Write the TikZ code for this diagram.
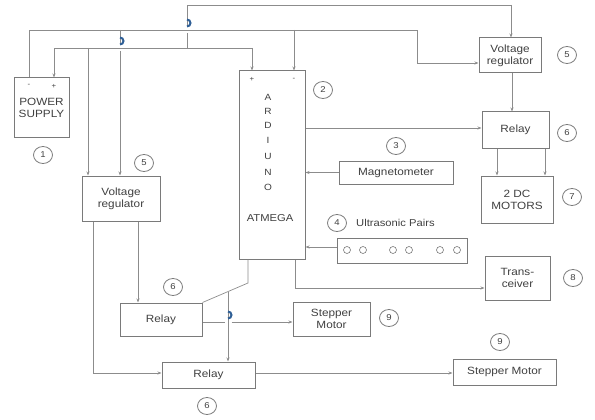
\documentclass[tikz,border=0pt]{standalone}
\usepackage{fontspec}
\setmainfont{Liberation Sans}[FakeStretch=1.12]
\usetikzlibrary{arrows.meta,shapes.geometric,calc}
\definecolor{wire}{HTML}{8C8C8C}
\definecolor{edge}{HTML}{7A7A7A}
\definecolor{txt}{HTML}{404040}
\definecolor{hop}{HTML}{2F5F96}
\begin{document}
\begin{tikzpicture}[x=1pt,y=-1pt,
  blk/.style={draw=edge,line width=1pt,rectangle,inner sep=1pt,align=center,text=txt,font=\fontsize{10.5}{12}\selectfont},
  num/.style={draw=edge,line width=0.8pt,ellipse,minimum width=19pt,minimum height=17pt,inner sep=0pt,text=txt,font=\fontsize{8.5}{9}\selectfont},
  wr/.style={draw=wire,line width=0.7pt},
  ar/.style={wr,-{Stealth[length=4pt,width=3pt]}},
  jump/.style={draw=hop,line width=2pt},
  pm/.style={text=txt,font=\fontsize{7}{7}\selectfont,inner sep=0pt}]
\useasboundingbox[fill=white] (0,0) rectangle (595,420);

% boxes
\node[blk,minimum width=55pt,minimum height=59pt] (ps) at (41.5,107.5) {POWER\\SUPPLY};
\node[blk,minimum width=66pt,minimum height=188pt] (ard) at (272,165) {};
\node[blk,minimum width=62pt,minimum height=35pt] (vrR) at (510,55.5) {Voltage\\regulator};
\node[blk,minimum width=67pt,minimum height=36pt] (relR) at (515.5,130) {Relay};
\node[blk,minimum width=114pt,minimum height=23pt] (mag) at (396,172.5) {Magnetometer};
\node[blk,minimum width=72pt,minimum height=47pt] (dc) at (517,199.5) {2 DC\\MOTORS};
\node[blk,minimum width=130pt,minimum height=25pt] (us) at (402,250.5) {};
\node[blk,minimum width=65pt,minimum height=44pt] (tr) at (517.5,278) {Trans-\\ceiver};
\node[blk,minimum width=77pt,minimum height=34pt] (smS) at (331.5,319) {Stepper\\Motor};
\node[blk,minimum width=103pt,minimum height=26pt] (smL) at (504.5,372) {Stepper Motor};
\node[blk,minimum width=78pt,minimum height=45pt] (vrL) at (121,198.5) {Voltage\\regulator};
\node[blk,minimum width=82pt,minimum height=33pt] (relM) at (161,319.5) {Relay};
\node[blk,minimum width=93pt,minimum height=26pt] (relB) at (208.5,375) {Relay};

% Arduino text
\foreach \l/\yy in {A/97,R/111,D/125,I/140,U/156,N/172,O/187}
  \node[text=txt,font=\fontsize{9}{9}\selectfont,inner sep=0pt] (ardl\l) at (268,\yy) {\l};
\node[text=txt,font=\fontsize{10}{12}\selectfont,inner sep=0pt] (atm) at (270,218) {ATMEGA};
\node[pm] (apl) at (252,79) {+};
\node[pm] (amn) at (294,79) {-};
\node[pm] (pmn) at (29,85) {-};
\node[pm] (ppl) at (54,86) {+};

% ultrasonic pairs
\foreach \cx [count=\i] in {347,363,393,409,440,457}
  \node[draw=edge,line width=0.6pt,circle,minimum size=7pt,inner sep=0pt] (uc\i) at (\cx,250) {};
\node[text=txt,font=\fontsize{10}{12}\selectfont,anchor=west,inner sep=0pt] (ustx) at (356,223) {Ultrasonic Pairs};

% number labels
\node[num] (n1) at (43,155) {1};
\node[num] (n2) at (323,90) {2};
\node[num] (n3) at (396,146) {3};
\node[num] (n4) at (337,223) {4};
\node[num] (n5a) at (567,55) {5};
\node[num] (n5b) at (144,163) {5};
\node[num] (n6a) at (567,133) {6};
\node[num] (n6b) at (173,287) {6};
\node[num] (n6c) at (207,406) {6};
\node[num] (n7) at (572,197) {7};
\node[num] (n8) at (573,278) {8};
\node[num] (n9a) at (389,318) {9};
\node[num] (n9b) at (500,342) {9};

% coordinates
\coordinate (t30a) at (29,30);
\coordinate (t30b) at (417,30);
\coordinate (t30c) at (417,63);
\coordinate (t48a) at (54,48);
\coordinate (t48b) at (252,48);
\coordinate (top5a) at (187,48);
\coordinate (top5b) at (187,5);
\coordinate (top5c) at (511,5);
\coordinate (dA) at (248,283);
\coordinate (dB) at (228,292);
\coordinate (tA) at (295,288);
\coordinate (vA) at (93,373);

% wires from power supply (-)
\draw[wr] (ps.north -| t30a) -- (t30a) -- (t30b) -- (t30c);
\draw[ar] (t30c) -- (t30c -| vrR.west);
\draw[ar] (120,30) -- (120,44.5) (120,51.5) -- (vrL.north -| 120,0);
\draw[ar] (294,30) -- (ard.north -| 294,0);
% wires from power supply (+)
\draw[ar] (t48b) -- (t48a) -- (ps.north -| t48a);
\draw[ar] (t48b) -- (ard.north -| t48b);
\draw[ar] (88,48) -- (vrL.north -| 88,0);
\draw[wr] (top5a) -- (187,33.5) (187,26.5) -- (top5b) -- (top5c);
\draw[ar] (top5c) -- (vrR.north -| top5c);
% jumps
\draw[jump] (187,26.5) arc[start angle=90,end angle=-90,radius=3.5];
\draw[jump] (120,44.5) arc[start angle=90,end angle=-90,radius=3.5];

% right side
\draw[ar] (vrR.south -| 512,0) -- (relR.north -| 512,0);
\draw[ar] (ard.east |- 0,128) -- (relR.west |- 0,128);
\draw[ar] (relR.south -| 497,0) -- (dc.north -| 497,0);
\draw[ar] (relR.south -| 545,0) -- (dc.north -| 545,0);
\draw[ar] (mag.west) -- (ard.east |- mag.west);
\draw[ar] (us.west |- 0,247) -- (ard.east |- 0,247);
\draw[ar] (ard.south -| tA) -- (tA) -- (tA -| tr.west);

% lower left
\draw[wr] (ard.south -| dA) -- (dA) -- (relM.north east);
\draw[ar] (dB) -- (relB.north -| dB);
\draw[ar] (relM.east |- 0,322) -- (224.5,322) (231.5,322) -- (smS.west |- 0,322);
\draw[jump] (228,318.5) arc[start angle=90,end angle=-90,radius=3.5];
\draw[ar] (vrL.south -| vA) -- (vA) -- (vA -| relB.west);
\draw[ar] (vrL.south -| 138,0) -- (relM.north -| 138,0);
\draw[ar] (relB.east |- 0,373) -- (smL.west |- 0,373);
\end{tikzpicture}
\end{document}
